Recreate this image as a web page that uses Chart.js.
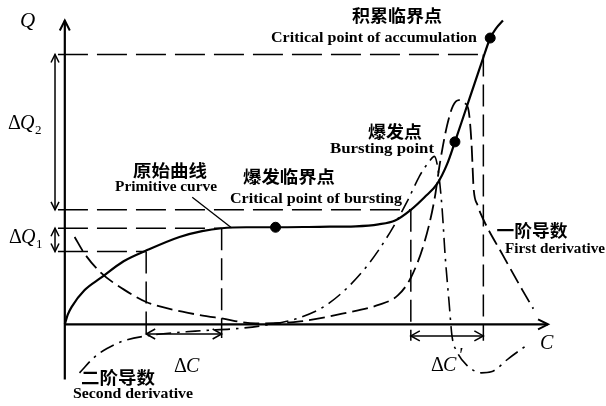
<!DOCTYPE html>
<html>
<head>
<meta charset="utf-8">
<script src="https://cdn.jsdelivr.net/npm/chart.js@4"></script>
<style>
  html, body { margin: 0; padding: 0; background: #fff; }
  canvas { display: block; }
</style>
</head>
<body>
<canvas id="chart" width="606" height="406"></canvas>
<script>
// primitive curve Q(C)
const primC = [0, 0.3, 0.7, 2.0, 3.7, 6.0, 8.3, 11.7, 14.0, 16.0, 18.5, 21.5, 26.0, 29.7, 32.0, 33.7, 35.3, 36.7, 38.0, 39.0, 39.8, 40.8, 41.8, 42.8, 43.4, 44.0, 44.7];
const primQ = [0, 1.0, 1.8, 3.5, 4.8, 6.5, 7.6, 9.0, 9.6, 9.9, 10.0, 10.0, 10.05, 10.1, 10.3, 10.7, 11.8, 13.1, 14.5, 16.5, 18.8, 21.8, 24.8, 27.8, 29.5, 30.5, 31.3];

// first derivative
const d1C = [1.0, 2.0, 3.7, 6.0, 8.3, 12.0, 16.0, 19.5, 24.0, 28.3, 32.0, 34.0, 35.3, 36.7, 37.7, 38.3, 39.0, 39.6, 40.2, 40.8, 41.2, 41.5, 41.7, 42.1, 42.7, 44.7, 46.7, 47.8];
const d1Q = [9.0, 7.3, 5.3, 3.6, 2.3, 1.3, 0.6, 0.1, 0.3, 1.1, 2.0, 3.0, 4.8, 8.5, 12.8, 16.8, 20.5, 22.5, 23.1, 22.8, 22.0, 18.5, 14.1, 12.3, 10.8, 7.1, 3.5, 1.6];

// second derivative
const d2C = [1.5, 3.0, 4.3, 6.0, 8.3, 13.3, 18.0, 21.0, 24.0, 27.0, 30.5, 33.2, 35.0, 36.2, 37.2, 37.7, 38.1, 38.5, 38.8, 39.2, 39.5, 40.0, 41.0, 42.5, 43.5, 45.3, 47.2];
const d2Q = [-5.0, -3.4, -2.5, -1.7, -1.2, -0.7, -0.4, 0.0, 0.7, 2.2, 5.6, 9.5, 12.8, 15.3, 16.8, 17.3, 15.8, 11.8, 7.1, 2.3, -1.2, -2.8, -4.2, -5.0, -4.9, -3.5, -2.1];

// marked points: critical point of bursting, bursting point, critical point of accumulation
const markC = [21.5, 39.8, 43.4];
const markQ = [10.0, 18.8, 29.5];

// reference levels: accumulation, bursting, dQ1 top, dQ1 bottom
const levelQ = [27.8, 11.8, 9.9, 7.5];
const levelC = [42.7, 35.3, 16.0, 8.3];

const pts = (xs, ys) => xs.map((x, i) => ({ x: x, y: ys[i] }));

const refDash = [];
levelQ.forEach((q, i) => {
    refDash.push({
        data: [{ x: -0.7, y: q }, { x: levelC[i], y: q }],
        borderColor: "#000", borderWidth: 1.5, borderDash: [30, 9],
        showLine: true, pointRadius: 0
    });
    refDash.push({
        data: [{ x: levelC[i], y: q }, { x: levelC[i], y: i < 2 ? -1.7 : -1.4 }],
        borderColor: "#000", borderWidth: 1.5, borderDash: [22, 8],
        showLine: true, pointRadius: 0
    });
});

function arrowHead(ctx, x, y, ang, len, wid) {
    ctx.beginPath();
    ctx.moveTo(x - len * Math.cos(ang) + wid * Math.sin(ang), y - len * Math.sin(ang) - wid * Math.cos(ang));
    ctx.lineTo(x, y);
    ctx.lineTo(x - len * Math.cos(ang) - wid * Math.sin(ang), y - len * Math.sin(ang) + wid * Math.cos(ang));
    ctx.stroke();
}

function fitText(ctx, text, cx, cy, font, w) {
    ctx.font = font;
    const m = ctx.measureText(text).width;
    ctx.save();
    ctx.translate(cx, cy);
    ctx.scale(w / m, 1);
    ctx.textAlign = "center";
    ctx.textBaseline = "middle";
    ctx.fillText(text, 0, 0);
    ctx.restore();
}

const cjk = "bold 17px 'Noto Sans CJK SC'";
const serif = "bold 15px 'Liberation Serif'";

const labels = [
    ["积累临界点", 397, 16, cjk, 90],
    ["Critical point of accumulation", 374, 38, serif, 206],
    ["爆发点", 395, 132, cjk, 54],
    ["Bursting point", 382, 149, serif, 104],
    ["原始曲线", 170, 171, cjk, 74],
    ["Primitive curve", 166, 187, serif, 102],
    ["爆发临界点", 289, 177, cjk, 92],
    ["Critical point of bursting", 316, 199, serif, 172],
    ["一阶导数", 532, 231, cjk, 71],
    ["First derivative", 555, 249, serif, 100],
    ["二阶导数", 118, 378, cjk, 74],
    ["Second derivative", 133, 394, serif, 120]
];

const decor = {
    id: "decor",
    afterDatasetsDraw(chart) {
        const ctx = chart.ctx;
        const xs = chart.scales.x, ys = chart.scales.y;
        const X = v => xs.getPixelForValue(v), Y = v => ys.getPixelForValue(v);
        ctx.save();
        ctx.strokeStyle = "#000";
        ctx.fillStyle = "#000";
        ctx.lineCap = "butt";

        // axes
        ctx.lineWidth = 2.2;
        ctx.beginPath();
        ctx.moveTo(X(0), Y(-5.7)); ctx.lineTo(X(0), Y(31.3));
        ctx.moveTo(X(0), Y(0)); ctx.lineTo(X(49.3), Y(0));
        ctx.stroke();
        ctx.lineWidth = 2;
        arrowHead(ctx, X(0), Y(31.3), -Math.PI / 2, 10, 5);
        arrowHead(ctx, X(49.3), Y(0), 0, 10, 5);

        // delta arrows
        ctx.lineWidth = 1.5;
        const vArrow = (c, q1, q2) => {
            ctx.beginPath(); ctx.moveTo(X(c), Y(q1)); ctx.lineTo(X(c), Y(q2)); ctx.stroke();
            arrowHead(ctx, X(c), Y(q1), -Math.PI / 2, 8, 4);
            arrowHead(ctx, X(c), Y(q2), Math.PI / 2, 8, 4);
        };
        const hArrow = (q, c1, c2) => {
            ctx.beginPath(); ctx.moveTo(X(c1), Y(q)); ctx.lineTo(X(c2), Y(q)); ctx.stroke();
            arrowHead(ctx, X(c1), Y(q), Math.PI, 9, 5);
            arrowHead(ctx, X(c2), Y(q), 0, 9, 5);
        };
        vArrow(-1.0, levelQ[0], levelQ[1]);
        vArrow(-1.0, levelQ[2], levelQ[3]);
        hArrow(-1.0, levelC[3], levelC[2]);
        hArrow(-1.2, levelC[1], levelC[0]);

        // leader line for primitive curve label
        ctx.lineWidth = 1.3;
        ctx.beginPath(); ctx.moveTo(X(13.0), Y(13.1)); ctx.lineTo(X(17.0), Y(9.95)); ctx.stroke();

        // text labels
        labels.forEach(l => fitText(ctx, l[0], l[1], l[2], l[3], l[4]));

        // math symbols
        ctx.textAlign = "left";
        ctx.textBaseline = "alphabetic";
        ctx.font = "italic 21px 'Liberation Serif'";
        ctx.fillText("Q", 20, 27);
        const deltaQ = (x, y, sub) => {
            ctx.font = "20px 'Liberation Serif'";
            ctx.fillText("Δ", x, y);
            ctx.font = "italic 20px 'Liberation Serif'";
            ctx.fillText("Q", x + 12, y);
            ctx.font = "13px 'Liberation Serif'";
            ctx.fillText(sub, x + 27, y + 5);
        };
        deltaQ(8, 129, "2");
        deltaQ(9, 243, "1");
        ctx.font = "20px 'Liberation Serif'";
        ctx.fillText("Δ", 174, 372);
        ctx.fillText("Δ", 431, 371);
        ctx.font = "italic 20px 'Liberation Serif'";
        ctx.fillText("C", 186, 372);
        ctx.fillText("C", 443, 371);
        ctx.fillText("'", 458, 362);
        ctx.fillText("C", 540, 349);
        ctx.restore();
    }
};

new Chart(document.getElementById("chart"), {
    type: "scatter",
    data: {
        datasets: [
            {
                label: "Marked points",
                data: pts(markC, markQ),
                pointRadius: 5, pointBackgroundColor: "#000", pointBorderColor: "#000",
                showLine: false
            },
            {
                label: "Primitive curve",
                data: pts(primC, primQ),
                borderColor: "#000", borderWidth: 2.2,
                showLine: true, pointRadius: 0, cubicInterpolationMode: "monotone"
            },
            {
                label: "First derivative",
                data: pts(d1C, d1Q),
                borderColor: "#000", borderWidth: 1.8, borderDash: [16, 6],
                showLine: true, pointRadius: 0, cubicInterpolationMode: "monotone"
            },
            {
                label: "Second derivative",
                data: pts(d2C, d2Q),
                borderColor: "#000", borderWidth: 1.6, borderDash: [15, 6, 2.5, 6],
                showLine: true, pointRadius: 0, cubicInterpolationMode: "monotone"
            },
            ...refDash
        ]
    },
    options: {
        responsive: false,
        animation: false,
        layout: { padding: 0 },
        plugins: { legend: { display: false }, tooltip: { enabled: false } },
        scales: {
            x: { type: "linear", min: -6, max: 54.6, display: false },
            y: { type: "linear", min: -7.8, max: 32.8, display: false }
        }
    },
    plugins: [decor]
});
</script>
</body>
</html>
